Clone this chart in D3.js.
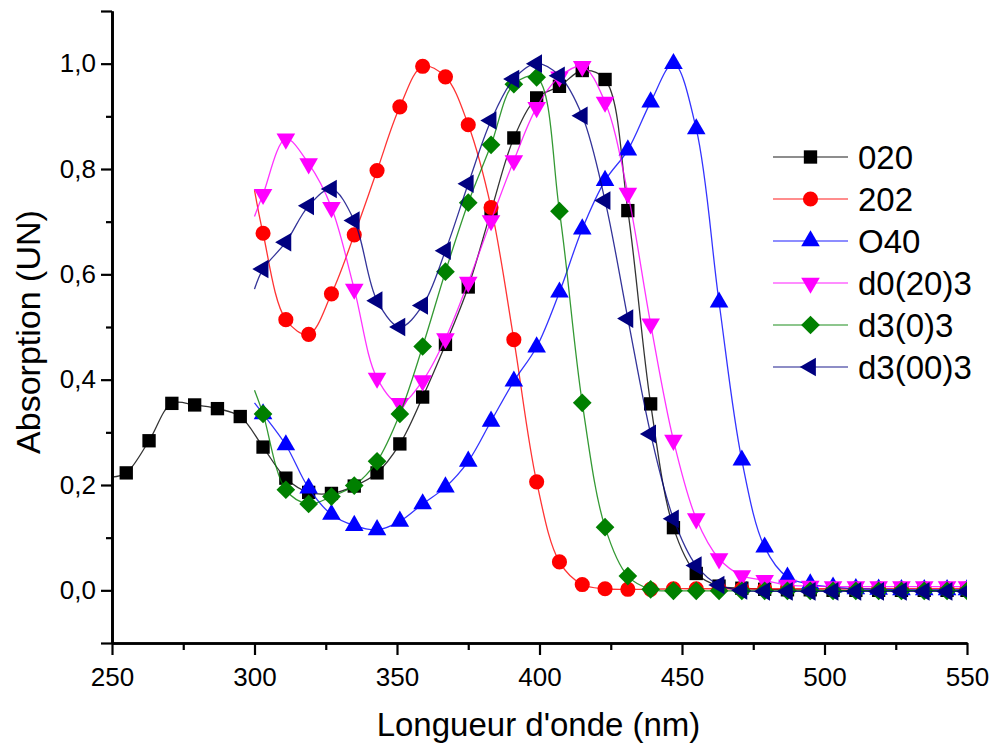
<!DOCTYPE html>
<html><head><meta charset="utf-8">
<script src="https://cdn.jsdelivr.net/npm/d3@7"></script>
<style>body{margin:0;background:#fff}svg{display:block;font-family:"Liberation Sans",Arial,sans-serif}</style>
</head><body><svg id="c" width="996" height="751"></svg>
<script>
// ---------- data ----------
const seriesNames = ["020", "202", "O40", "d0(20)3", "d3(0)3", "d3(00)3"];
const seriesColors = ["#000000", "#ff0000", "#0000ff", "#ff00ff", "#008000", "#000080"];
const seriesSymbols = ["square", "circle", "triUp", "triDown", "diamond", "triLeft"];

// wavelengths of marked points
const wlFrom255 = [255,263,271,279,287,295,303,311,319,327,335,343,351,359,367,375,383,391,399,407,
                   415,423,431,439,447,455,463,471,479,487,495,503,511,519,527,535,543,550];
const wlFrom303 = [303,311,319,327,335,343,351,359,367,375,383,391,399,407,
                   415,423,431,439,447,455,463,471,479,487,495,503,511,519,527,535,543,550];

// line start (curve begins before first marker)
const lineStartX = [250, 300, 300, 300, 300, 300];
const lineStartY = [0.215, 0.76, 0.356, 0.71, 0.38, 0.572];

const y020 = [0.223,0.284,0.355,0.352,0.345,0.330,0.272,0.213,0.186,0.184,0.198,0.223,0.278,0.367,0.467,0.576,0.720,0.859,0.935,0.957,
              0.987,0.970,0.721,0.354,0.119,0.032,0.008,0.004,0.002,0.001,0.001,0,0,0,0,0,0,0];
const y202 = [0.678,0.514,0.486,0.563,0.675,0.797,0.918,0.995,0.975,0.884,0.727,0.476,0.206,0.054,
              0.011,0.003,0.002,0.002,0.003,0.003,0.003,0.003,0.003,0.003,0.003,0.003,0.003,0.003,0.003,0.003,0.003,0.003];
const yO40 = [0.335,0.276,0.194,0.144,0.123,0.115,0.131,0.164,0.196,0.245,0.321,0.397,0.462,0.566,
              0.686,0.778,0.836,0.927,1.000,0.876,0.547,0.247,0.082,0.025,0.012,0.006,0.003,0.002,0.001,0.001,0.001,0.001];
const yD0203 = [0.752,0.857,0.810,0.727,0.572,0.403,0.355,0.398,0.478,0.585,0.702,0.816,0.917,0.975,
                0.995,0.927,0.754,0.506,0.285,0.136,0.060,0.028,0.019,0.010,0.008,0.007,0.007,0.007,0.007,0.007,0.007,0.007];
const yD303 = [0.335,0.191,0.164,0.178,0.199,0.245,0.335,0.463,0.605,0.736,0.846,0.961,0.974,0.720,
               0.356,0.120,0.027,0.002,-0.001,-0.001,-0.001,-0.001,-0.001,-0.001,-0.001,-0.001,-0.001,-0.001,-0.001,-0.001,-0.001,-0.001];
const yD30033 = [0.610,0.661,0.730,0.762,0.702,0.550,0.500,0.541,0.645,0.772,0.892,0.971,1.000,0.977,
                 0.901,0.740,0.516,0.297,0.136,0.047,0.010,0.000,-0.002,-0.002,-0.002,-0.002,-0.002,-0.002,-0.002,-0.002,-0.002,-0.002];

const seriesWl = [wlFrom255, wlFrom303, wlFrom303, wlFrom303, wlFrom303, wlFrom303];
const seriesY = [y020, y202, yO40, yD0203, yD303, yD30033];

const xMajorTicks = [250, 300, 350, 400, 450, 500, 550];
const xMinorTicks = [275, 325, 375, 425, 475, 525];
const yMajorTicks = [0.0, 0.2, 0.4, 0.6, 0.8, 1.0];
const yMinorTicks = [0.1, 0.3, 0.5, 0.7, 0.9];
const yEndTicks = [-0.1, 1.1];

const xTitle = "Longueur d'onde (nm)";
const yTitle = "Absorption (UN)";

// ---------- drawing ----------
const svg = d3.select("#c");
const L = 112, R = 967, T = 11, B = 643;
const x = d3.scaleLinear().domain([250, 550]).range([L, R]);
const y = d3.scaleLinear().domain([-0.1, 1.1]).range([B, T]);

svg.append("defs").append("clipPath").attr("id", "clip")
  .append("rect").attr("x", L).attr("y", 0).attr("width", R - L).attr("height", B);

function symbolPath(kind) {
  switch (kind) {
    case "square": return d3.symbol(d3.symbolSquare, 178)();
    case "circle": return d3.symbol(d3.symbolCircle, 180)();
    case "diamond": return d3.symbol(d3.symbolSquare, 175)();
    default: return d3.symbol(d3.symbolTriangle, 150)();
  }
}
function symbolRotate(kind) {
  return kind === "triDown" ? 180 : kind === "triLeft" ? -90 : kind === "diamond" ? 45 : 0;
}

const plot = svg.append("g").attr("clip-path", "url(#clip)");
const line = d3.line().x(d => x(d[0])).y(d => y(d[1])).curve(d3.curveCatmullRom.alpha(0.5));

seriesNames.forEach((name, i) => {
  const pts = seriesWl[i].map((w, j) => [w, seriesY[i][j]]);
  const linePts = [[lineStartX[i], lineStartY[i]]].concat(pts);
  const g = plot.append("g");
  g.append("path").attr("d", line(linePts)).attr("fill", "none")
    .attr("stroke", seriesColors[i]).attr("stroke-width", 1.3).attr("stroke-opacity", 0.8);
  g.selectAll("path.m").data(pts).join("path").attr("class", "m")
    .attr("d", symbolPath(seriesSymbols[i]))
    .attr("transform", d => `translate(${x(d[0])},${y(d[1])}) rotate(${symbolRotate(seriesSymbols[i])})`)
    .attr("fill", seriesColors[i]);
});

// axes
const fmt = d => d.toFixed(1).replace(".", ",");
const axStyle = g => {
  g.selectAll("path.domain").attr("stroke", "#000").attr("stroke-width", 2.4);
  g.selectAll(".tick line").attr("stroke", "#000").attr("stroke-width", 2.2);
  g.selectAll("text").attr("font-size", 26).attr("fill", "#000").attr("font-family", '"Liberation Sans",Arial,sans-serif');
};
svg.append("g").attr("transform", `translate(0,${B})`)
  .call(d3.axisBottom(x).tickValues(xMinorTicks).tickSize(7).tickFormat("").tickSizeOuter(0)).call(axStyle);
svg.append("g").attr("transform", `translate(0,${B})`)
  .call(d3.axisBottom(x).tickValues(xMajorTicks).tickSize(12).tickPadding(13).tickFormat(d3.format("d")).tickSizeOuter(0)).call(axStyle);
svg.append("g").attr("transform", `translate(${L},0)`)
  .call(d3.axisLeft(y).tickValues(yMinorTicks).tickSize(6).tickFormat("").tickSizeOuter(0)).call(axStyle);
svg.append("g").attr("transform", `translate(${L},0)`)
  .call(d3.axisLeft(y).tickValues(yEndTicks).tickSize(11).tickFormat("").tickSizeOuter(0)).call(axStyle);
svg.append("g").attr("transform", `translate(${L},0)`)
  .call(d3.axisLeft(y).tickValues(yMajorTicks).tickSize(11).tickPadding(5).tickFormat(fmt).tickSizeOuter(0)).call(axStyle);

// titles
svg.append("text").attr("x", (L + R) / 2 - 1).attr("y", 736).attr("text-anchor", "middle")
  .attr("font-size", 33).text(xTitle);
svg.append("text").attr("transform", `translate(40,${332}) rotate(-90)`).attr("text-anchor", "middle")
  .attr("font-size", 34).text(yTitle);

// legend
const lg = svg.append("g");
seriesNames.forEach((name, i) => {
  const yy = 157 + i * 42;
  lg.append("line").attr("x1", 773).attr("x2", 848).attr("y1", yy).attr("y2", yy)
    .attr("stroke", seriesColors[i]).attr("stroke-width", 1.3).attr("stroke-opacity", 0.6);
  lg.append("path").attr("d", symbolPath(seriesSymbols[i]))
    .attr("transform", `translate(810.5,${yy}) rotate(${symbolRotate(seriesSymbols[i])})`)
    .attr("fill", seriesColors[i]);
  lg.append("text").attr("x", 858).attr("y", yy).attr("dy", "0.36em").attr("font-size", 33).text(name);
});
</script></body></html>
